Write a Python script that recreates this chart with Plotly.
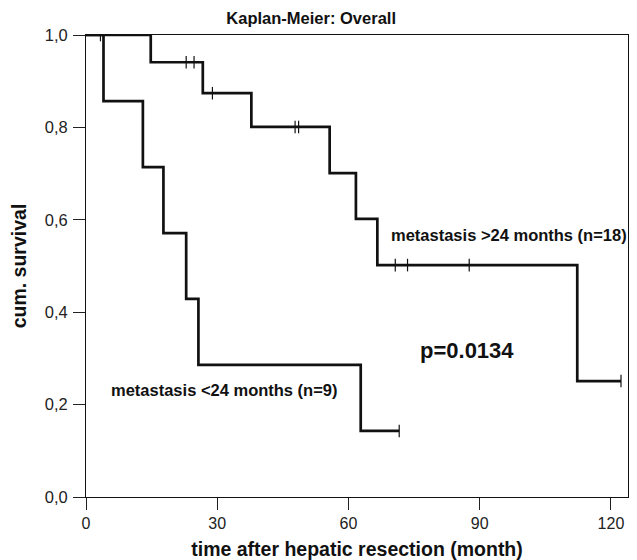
import plotly.graph_objects as go

# Group: metastasis >24 months (n=18)
late_t = [0, 14.8, 26.7, 37.8, 55.7, 61.7, 66.6, 112.3, 122.3]
late_s = [1.0, 0.941, 0.874, 0.801, 0.701, 0.602, 0.502, 0.251, 0.251]
late_cens_t = [3.3, 22.9, 24.7, 28.9, 47.8, 48.6, 70.7, 73.5, 87.6, 122.3]
late_cens_s = [1.0, 0.941, 0.941, 0.874, 0.801, 0.801, 0.502, 0.502, 0.502, 0.251]

# Group: metastasis <24 months (n=9)
early_t = [0, 4.0, 13.0, 17.7, 22.9, 25.7, 62.8, 71.6]
early_s = [1.0, 0.857, 0.714, 0.571, 0.429, 0.286, 0.143, 0.143]
early_cens_t = [71.6]
early_cens_s = [0.143]

x_ticks = [0, 30, 60, 90, 120]
y_ticks = [0.0, 0.2, 0.4, 0.6, 0.8, 1.0]

FONT = "Liberation Sans, Arial, Helvetica, sans-serif"
fig = go.Figure()

for t, s in [(late_t, late_s), (early_t, early_s)]:
    fig.add_trace(go.Scatter(x=t, y=s, mode="lines", line=dict(color="#111111", width=2.7, shape="hv"),
                             showlegend=False, hoverinfo="skip"))
for t, s in [(late_cens_t, late_cens_s), (early_cens_t, early_cens_s)]:
    fig.add_trace(go.Scatter(x=t, y=s, mode="markers",
                             marker=dict(symbol="line-ns", size=9, line=dict(color="#111111", width=1.2)),
                             showlegend=False, hoverinfo="skip"))

fig.add_annotation(x=69.3, y=0.567, text="<b>metastasis &gt;24 months (n=18)</b>", showarrow=False,
                   xanchor="left", yanchor="middle", font=dict(family=FONT, size=16.5, color="#111111"))
fig.add_annotation(x=5.3, y=0.232, text="<b>metastasis &lt;24 months (n=9)</b>", showarrow=False,
                   xanchor="left", yanchor="middle", font=dict(family=FONT, size=16.5, color="#111111"))
fig.add_annotation(x=87.1, y=0.318, text="<b>p=0.0134</b>", showarrow=False,
                   xanchor="center", yanchor="middle", font=dict(family=FONT, size=22, color="#111111"))

# page body has an 8px default margin, so the figure is sized to fit the window
fig.update_layout(
    width=629, height=552,
    margin=dict(l=78, r=9, t=27, b=63),
    paper_bgcolor="white", plot_bgcolor="white",
    separators=",.",
    font=dict(family=FONT, color="#222222"),
    title=dict(text="<b>Kaplan-Meier: Overall</b>", x=0.482, xanchor="center", y=0.982, yanchor="middle",
               yref="container", font=dict(family=FONT, size=16.5, color="#111111")),
    xaxis=dict(range=[0, 123.9], tickvals=x_ticks, ticks="outside", ticklen=12, tickwidth=1, tickcolor="#222222",
               showline=True, linecolor="#111111", linewidth=1, mirror=True, showgrid=False, zeroline=False,
               automargin=False, tickfont=dict(size=16, color="#222222"), ticklabelstandoff=0,
               title=dict(text="<b>time after hepatic resection (month)</b>", font=dict(size=19.5, color="#111111"), standoff=11)),
    yaxis=dict(range=[0, 1.0], tickvals=y_ticks, tickformat=".1f", ticks="outside", ticklen=12, tickwidth=1,
               tickcolor="#222222", showline=True, linecolor="#111111", linewidth=1, mirror=True, showgrid=False,
               zeroline=False, automargin=False, tickfont=dict(size=16.5, color="#222222"), ticklabelstandoff=2,
               title=dict(text="<b>cum. survival</b>", font=dict(size=19.5, color="#111111"), standoff=12)),
)

fig.write_html("out.html")
